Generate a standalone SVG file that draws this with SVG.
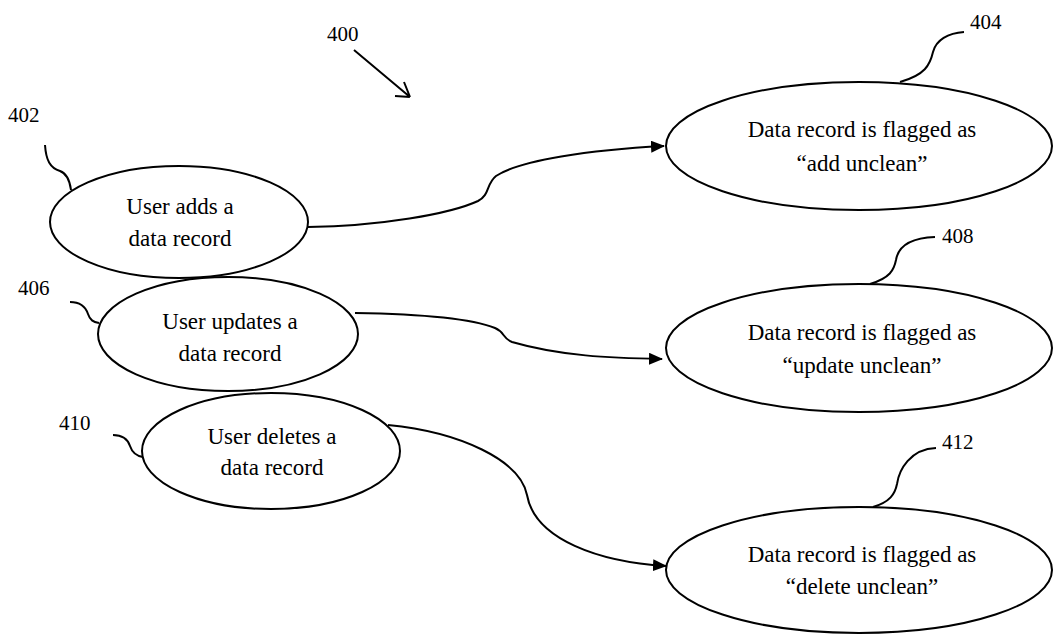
<svg xmlns="http://www.w3.org/2000/svg" width="1056" height="634" viewBox="0 0 1056 634">
<style>
.node ellipse{fill:#fff;stroke:#000;stroke-width:2}
.t{font-family:"Liberation Serif","Times New Roman",serif;font-size:23px;fill:#000;text-anchor:middle}
.lbl{font-family:"Liberation Serif","Times New Roman",serif;font-size:21px;fill:#000}
.lead{fill:none;stroke:#000;stroke-width:2}
.conn path{fill:none;stroke:#000;stroke-width:2}
</style>
<defs>
<marker id="ah" markerWidth="14" markerHeight="12" refX="13" refY="6" orient="auto" markerUnits="userSpaceOnUse">
<path d="M0,0 L14,6 L0,12 Z" fill="#000"/>
</marker>
</defs>
<rect width="1056" height="634" fill="#fff"/>

<g id="fig-label">
<text class="lbl" x="327" y="41">400</text>
<path class="lead" d="M354,50 L410,97 M410,97 L404,82 M410,97 L395,96"/>
</g>

<g class="conn" id="connectors">
<path d="M308,227 C380,226 450,214 478,201 C490,195 486,184 496,176 C520,160 590,150 664,146" marker-end="url(#ah)"/>
<path d="M355,313 C420,314 470,318 495,328 C505,332 502,338 512,342 C560,356 610,358 662,359" marker-end="url(#ah)"/>
<path d="M388,425 C460,432 520,460 527,495 C535,540 600,562 666,566" marker-end="url(#ah)"/>
</g>

<g id="n402" class="node">
<ellipse cx="179" cy="222" rx="129" ry="56"/>
<text class="t" x="180" y="214">User adds a</text>
<text class="t" x="180" y="246">data record</text>
<text class="lbl" x="8" y="122">402</text>
<path class="lead" d="M45,145 C46,160 50,168 60,171 C68,174 70,182 71,190"/>
</g>

<g id="n404" class="node">
<ellipse cx="859" cy="146" rx="193" ry="64"/>
<text class="t" x="862" y="137">Data record is flagged as</text>
<text class="t" x="862" y="171">“add unclean”</text>
<text class="lbl" x="970" y="29">404</text>
<path class="lead" d="M900,82 C925,75 930,65 933,52 C936,40 948,33 964,32"/>
</g>

<g id="n406" class="node">
<ellipse cx="228" cy="334" rx="130" ry="57"/>
<text class="t" x="230" y="329">User updates a</text>
<text class="t" x="230" y="361">data record</text>
<text class="lbl" x="18" y="295">406</text>
<path class="lead" d="M70,302 C82,302 86,308 88,314 C90,320 93,322 99,323"/>
</g>

<g id="n408" class="node">
<ellipse cx="859" cy="348" rx="193" ry="64"/>
<text class="t" x="862" y="340">Data record is flagged as</text>
<text class="t" x="862" y="373">“update unclean”</text>
<text class="lbl" x="942" y="243">408</text>
<path class="lead" d="M870,284 C890,278 894,270 896,260 C898,248 908,238 935,237"/>
</g>

<g id="n410" class="node">
<ellipse cx="271" cy="451" rx="129" ry="58"/>
<text class="t" x="272" y="444">User deletes a</text>
<text class="t" x="272" y="475">data record</text>
<text class="lbl" x="59" y="430">410</text>
<path class="lead" d="M113,435 C124,435 128,440 130,446 C132,452 136,456 143,457"/>
</g>

<g id="n412" class="node">
<ellipse cx="859" cy="570" rx="193" ry="63"/>
<text class="t" x="862" y="562">Data record is flagged as</text>
<text class="t" x="862" y="594">“delete unclean”</text>
<text class="lbl" x="942" y="449">412</text>
<path class="lead" d="M873,507 C890,502 895,494 897,484 C899,470 910,449 936,448"/>
</g>
</svg>
